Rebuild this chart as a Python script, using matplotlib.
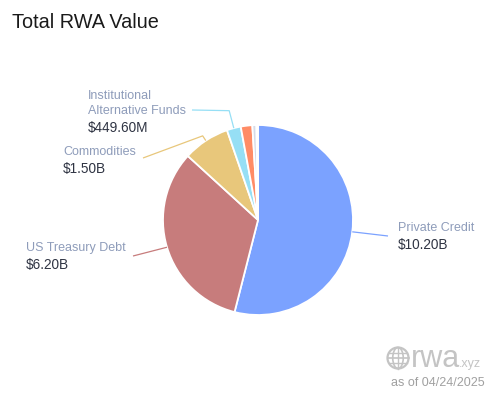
import numpy as np
import matplotlib
matplotlib.use("Agg")
import matplotlib.pyplot as plt
from matplotlib.patches import Circle, Ellipse

plt.rcParams['font.family'] = ['Liberation Sans', 'DejaVu Sans']

# data (billions USD)
categories = ['Private Credit', 'US Treasury Debt', 'Commodities',
              'Institutional\nAlternative Funds', 'Stocks', 'Non-US Government Debt', 'Corporate Bonds']
values = [10.20, 6.20, 1.50, 0.4496, 0.37, 0.13, 0.05]
value_labels = ['$10.20B', '$6.20B', '$1.50B', '$449.60M', None, None, None]
colors = ['#7ba2ff', '#c77c7c', '#e8c77b', '#96dff5', '#ff8c66', '#d5dbe8', '#c9d8f5']

W, H = 494, 395
fig = plt.figure(figsize=(W / 100, H / 100), dpi=100)
ax = fig.add_axes([0, 0, 1, 1])

cx, cy, R = 258, H - 220, 95
wedges, _ = ax.pie(values, colors=colors, startangle=90, counterclock=False,
                   center=(cx, cy), radius=R, frame=True,
                   wedgeprops=dict(edgecolor='white', linewidth=1.3))
ax.set_xlim(0, W)
ax.set_ylim(0, H)
ax.set_aspect('equal')
ax.axis('off')

fig.text(12 / W, 1 - 22 / H, 'Total RWA Value', fontsize=14.3, color='#1a1a1a', va='center')

# label layout: (elbow radius factor, line end px, text x px, text y px of first line)
layout = {
    0: dict(r2=1.0, end=(388, 236), tx=398, ty=228),
    1: dict(r2=1.0, end=(133, 256), tx=26, ty=248),
    2: dict(r2=1.06, end=(143, 158), tx=63, ty=152),
    3: dict(r2=1.19, end=(192, 110), tx=88, ty=96),
}
lab_color = '#8e9cba'
val_color = '#2f3443'
for i, lo in layout.items():
    w = wedges[i]
    mid = np.deg2rad((w.theta1 + w.theta2) / 2)
    x0, y0 = cx + R * np.cos(mid), cy + R * np.sin(mid)
    x1, y1 = cx + R * lo['r2'] * np.cos(mid), cy + R * lo['r2'] * np.sin(mid)
    ex, ey = lo['end'][0], H - lo['end'][1]
    ax.plot([x0, x1, ex], [y0, y1, ey], color=colors[i], lw=0.9, solid_capstyle='butt')
    lines = categories[i].split('\n')
    ty = H - lo['ty']
    for ln in lines:
        ax.text(lo['tx'], ty, ln, fontsize=9, color=lab_color, va='center', ha='left')
        ty -= 15
    ax.text(lo['tx'], ty - 2, value_labels[i], fontsize=9.8, color=val_color, va='center', ha='left')

# watermark
gx, gy, gr = 398, H - 358, 10.5
wm = '#c4c4c4'
ax.add_patch(Circle((gx, gy), gr, fill=False, ec=wm, lw=1.6))
ax.add_patch(Ellipse((gx, gy), gr * 1.0, gr * 2, fill=False, ec=wm, lw=1.2))
ax.plot([gx - gr, gx + gr], [gy, gy], color=wm, lw=1.2)
for dy in (-gr * 0.5, gr * 0.5):
    hw = np.sqrt(gr ** 2 - dy ** 2)
    ax.plot([gx - hw, gx + hw], [gy + dy, gy + dy], color=wm, lw=1.0)
ax.plot([gx, gx], [gy - gr, gy + gr], color=wm, lw=1.0)
ax.text(411, H - 359, 'rwa', fontsize=22, color=wm, va='center', ha='left')
ax.text(459, H - 364, '.xyz', fontsize=9, color=wm, va='center', ha='left')
ax.text(485, H - 383, 'as of 04/24/2025', fontsize=9, color='#a0a0a0', va='center', ha='right')

fig.savefig('out.png', dpi=100)
